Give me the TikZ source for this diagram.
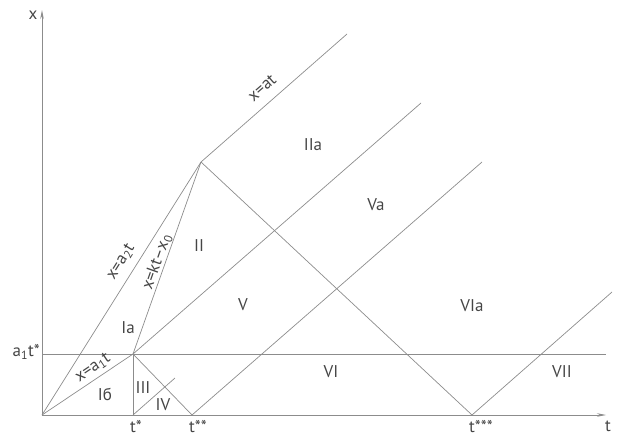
\documentclass[tikz,border=0pt]{standalone}
\usepackage{fontspec}
\setmainfont{PT Sans}
\usetikzlibrary{arrows.meta}
\definecolor{ln}{HTML}{8C8C8C}
\definecolor{tx}{HTML}{454545}
\tikzset{
  ln/.style={draw=ln, line width=0.7pt},
  axis/.style={ln, -{Stealth[length=9pt,width=3.5pt]}},
  lbl/.style={text=tx, inner sep=0pt, font=\fontsize{17}{19}\selectfont},
}
\begin{document}
\begin{tikzpicture}[x=1pt,y=-1pt]
\useasboundingbox (0,0) rectangle (617,439);
% key points
\coordinate (O) at (42,415);
\coordinate (Ytop) at (42,10);
\coordinate (Tend) at (606,415);
\coordinate (P1) at (133,354);
\coordinate (A) at (201,162);
\coordinate (B) at (347,34);
\coordinate (C2) at (421,103);
\coordinate (T1) at (133,415);
\coordinate (T2) at (192,415);
\coordinate (C3) at (482,162);
\coordinate (T3) at (472,415);
\coordinate (C4) at (612,292);
\coordinate (S) at (175,378);
\coordinate (H0) at (42,354);
\coordinate (H1) at (606,354);
% axes
\draw[axis] (O) -- (Ytop);
\draw[axis] (O) -- (Tend);
% lines
\draw[ln] (H0) -- (H1);
\draw[ln] (O) -- (P1);
\draw[ln] (O) -- (A);
\draw[ln] (P1) -- (A);
\draw[ln] (A) -- (B);
\draw[ln] (P1) -- (C2);
\draw[ln] (P1) -- (T1);
\draw[ln] (P1) -- (T2);
\draw[ln] (T1) -- (S);
\draw[ln] (T2) -- (C3);
\draw[ln] (A) -- (T3);
\draw[ln] (T3) -- (C4);
% axis labels
\node[lbl] (lx) at (33,15) {x};
\node[lbl] (lt) at (608,426) {t};
\node[lbl, anchor=west] (lt1) at (130,427) {t*};
\node[lbl, anchor=west] (lt2) at (189,427) {t**};
\node[lbl, anchor=west] (lt3) at (469,427) {t***};
\node[lbl, anchor=east] (la1) at (40,352) {a\textsubscript{1}t*};
% line labels
\node[lbl, rotate=34] (e1) at (93,368) {x=a\textsubscript{1}t};
\node[lbl, rotate=58] (e2) at (121,262) {x=a\textsubscript{2}t};
\node[lbl, rotate=70.5] (e3) at (157,262) {x=kt--x\textsubscript{0}};
\node[lbl, rotate=41] (e4) at (262,88) {x=at};
% region labels
\node[lbl] (r1b) at (105,394) {Iб};
\node[lbl] (r1a) at (128,328) {Ia};
\node[lbl] (r3) at (143,388) {III};
\node[lbl] (r4) at (163,405) {IV};
\node[lbl] (r2) at (199,246) {II};
\node[lbl] (r2a) at (313,145) {IIa};
\node[lbl] (r5) at (243,305) {V};
\node[lbl] (r5a) at (376,205) {Va};
\node[lbl] (r6) at (331,372) {VI};
\node[lbl] (r6a) at (472,306) {VIa};
\node[lbl] (r7) at (562,372) {VII};
\end{tikzpicture}
\end{document}
